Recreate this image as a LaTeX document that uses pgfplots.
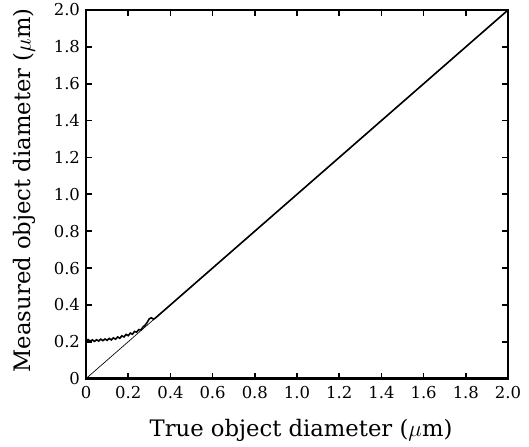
\documentclass[border=0pt]{standalone}
\usepackage{pgfplots}
\pgfplotsset{compat=1.18}
\usepackage{fontspec}
\setmainfont{DejaVu Serif}
\begin{document}
\begin{tikzpicture}
\begin{axis}[
  name=ax,
  scale only axis,
  width=316pt, height=276pt,
  xmin=0, xmax=2, ymin=0, ymax=2,
  xtick={0,0.2,0.4,0.6,0.8,1.0,1.2,1.4,1.6,1.8,2.0},
  ytick={0,0.2,0.4,0.6,0.8,1.0,1.2,1.4,1.6,1.8,2.0},
  xticklabels={0,0.2,0.4,0.6,0.8,1.0,1.2,1.4,1.6,1.8,2.0},
  yticklabels={0,0.2,0.4,0.6,0.8,1.0,1.2,1.4,1.6,1.8,2.0},
  xtick pos=both, ytick pos=both,
  tick align=inside, major tick length=4.5pt,
  major tick style={black, line width=1.3pt},
  axis line style={line width=2pt},
  ticklabel style={font=\fontsize{12.3}{14}\selectfont},
  xlabel={True object diameter ($\mu$m)},
  ylabel={Measured object diameter ($\mu$m)},
  label style={font=\fontsize{17}{19}\selectfont},
  xlabel style={at={(axis description cs:0.5,0)}, anchor=base, yshift=-43pt, xshift=3pt},
  ylabel style={at={(axis description cs:0,0.5)}, anchor=center, yshift=46pt, xshift=3pt},
  xticklabel style={yshift=-2pt},
  yticklabel style={xshift=-1pt},
]
\addplot[black, line width=0.5pt] coordinates {(0,0) (2,2)};
\addplot[black, line width=1.2pt] coordinates {
(0,0.205) (0.01,0.212) (0.02,0.203) (0.03,0.210) (0.04,0.202) (0.05,0.211) (0.06,0.204)
(0.07,0.214) (0.08,0.206) (0.09,0.215) (0.10,0.208) (0.11,0.218) (0.12,0.210) (0.13,0.221)
(0.14,0.214) (0.15,0.226) (0.16,0.219) (0.17,0.232) (0.18,0.226) (0.19,0.240) (0.20,0.233)
(0.21,0.247) (0.22,0.241) (0.23,0.256) (0.24,0.252) (0.25,0.266) (0.26,0.264) (0.27,0.280)
(0.28,0.290) (0.29,0.305) (0.30,0.325) (0.31,0.330) (0.32,0.322) (0.33,0.330) (0.40,0.40) (2,2)};
\end{axis}
\pgfresetboundingbox
\path ([shift={(-64.4pt,-51pt)}]ax.south west) rectangle ([shift={(15.7pt,7.5pt)}]ax.north east);
\end{tikzpicture}
\end{document}
